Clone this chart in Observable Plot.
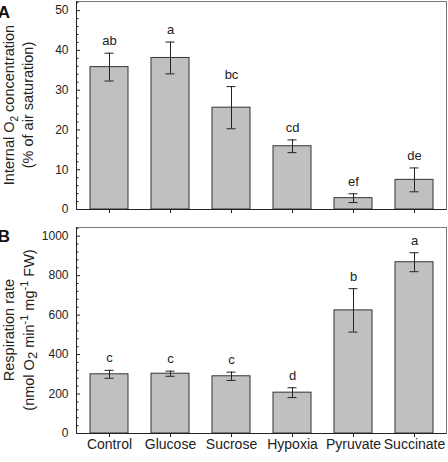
<!DOCTYPE html>
<html><head><meta charset="utf-8">
<script src="https://cdn.jsdelivr.net/npm/d3@7"></script>
<script src="https://cdn.jsdelivr.net/npm/@observablehq/plot@0.6"></script>
<style>
body{margin:0;background:#fff;font-family:"Liberation Sans",Arial,sans-serif;}
#chart{width:448px;height:462px;overflow:hidden}
#chart svg{display:block}
</style></head><body><div id="chart"></div>
<script>
const categories = ["Control","Glucose","Sucrose","Hypoxia","Pyruvate","Succinate"];
const o2Mean = [35.8, 38.1, 25.6, 15.9, 2.85, 7.45];
const o2Err = [3.5, 4.0, 5.3, 1.6, 1.1, 3.0];
const o2Letters = ["ab","a","bc","cd","ef","de"];
const respMean = [300, 303, 290, 207, 624, 868];
const respErr = [20, 13, 21, 25, 110, 48];
const respLetters = ["c","c","c","d","b","a"];
const o2Ticks = [0,10,20,30,40,50];
const respTicks = [0,200,400,600,800,1000];

const FONT = "Liberation Sans, Arial, sans-serif";
const W = 448, ML = 76, MR = 2;
const plotW = W - ML - MR;

function panel({mean, err, letters, ticks, minorStep, domain, height, marginTop, marginBottom, showLabels}) {
  const data = categories.map((c, i) => ({c, m: mean[i], lo: mean[i] - err[i], hi: mean[i] + err[i], l: letters[i]}));
  const minor = d3.range(0, domain[1], minorStep).filter(v => !ticks.includes(v));
  const plotH = height - marginTop - marginBottom;
  const marks = [
    Plot.frame({stroke: "#777", strokeWidth: 1}),
    Plot.barY(data, {x: "c", y: "m", fill: "#c0c0c0", stroke: "#333", strokeWidth: 1}),
    Plot.ruleX(data, {x: "c", y1: "lo", y2: "hi", stroke: "#222", strokeWidth: 1}),
    Plot.tickY(data, {x: "c", y: "hi", stroke: "#222", inset: 14.5}),
    Plot.tickY(data, {x: "c", y: "lo", stroke: "#222", inset: 14.5}),
    Plot.text(data, {x: "c", y: "hi", text: "l", lineAnchor: "bottom", dy: -8, fontSize: 13, fill: "#222"}),
    Plot.tickY(ticks, {y: d => d, insetRight: plotW - 4, stroke: "#222"}),
    Plot.tickY(minor, {y: d => d, insetRight: plotW - 2.5, stroke: "#222"}),
    Plot.axisY({ticks, tickSize: 0, tickPadding: 8, fontSize: 12, label: null, tickFormat: d => String(d)}),
    Plot.tickX(categories, {x: d => d, insetTop: plotH, insetBottom: -4, stroke: "#222"}),
    Plot.ruleY([0], {stroke: "#222"}),
    Plot.frame({anchor: "left", stroke: "#222"})
  ];
  if (showLabels) {
    marks.push(Plot.axisX({tickSize: 4, tickPadding: 2, fontSize: 14, label: null, stroke: "#222"}));
  }
  return Plot.plot({
    width: W, height, marginLeft: ML, marginRight: MR, marginTop, marginBottom,
    style: {fontFamily: FONT, fontSize: "12px", color: "#222", background: "#fff", overflow: "visible"},
    x: {domain: categories, paddingInner: 0.38, paddingOuter: 0.19, align: 0.5, label: null, axis: showLabels ? undefined : null},
    y: {domain, label: null},
    marks
  });
}

function addTitle(svg, x, cy, parts, size) {
  const t = d3.select(svg).append("text")
    .attr("transform", `translate(${x},${cy}) rotate(-90)`)
    .attr("text-anchor", "middle")
    .attr("font-family", FONT)
    .attr("font-size", size)
    .attr("fill", "#222");
  let pending = 0;
  parts.forEach(p => {
    if (typeof p === "string") {
      const s = t.append("tspan").text(p);
      if (pending) { s.attr("dy", pending); pending = 0; }
    } else if (p.sub) {
      t.append("tspan").attr("dy", p.shift + pending).attr("font-size", p.size).text(p.sub);
      pending = -p.shift;
    } else if (p.sup) {
      t.append("tspan").attr("dy", -p.shift + pending).attr("font-size", p.size).text(p.sup);
      pending = p.shift;
    }
  });
}

function addPanelLabel(svg, label, y) {
  d3.select(svg).append("text")
    .attr("x", 4).attr("y", y)
    .attr("font-family", FONT).attr("font-weight", "bold").attr("font-size", 17)
    .attr("fill", "#111").text(label);
}

const svgA = panel({mean: o2Mean, err: o2Err, letters: o2Letters, ticks: o2Ticks, minorStep: 2,
  domain: [0, 52.3], height: 225, marginTop: 1, marginBottom: 16, showLabels: false});
const svgB = panel({mean: respMean, err: respErr, letters: respLetters, ticks: respTicks, minorStep: 40,
  domain: [0, 1044], height: 237, marginTop: 2, marginBottom: 29, showLabels: true});

const cyA = (1 + 209) / 2;
addTitle(svgA, 14, cyA, ["Internal O", {sub: "2", shift: 4, size: 10}, " concentration"], 14.5);
addTitle(svgA, 33, cyA, ["(% of air saturation)"], 14.5);
addPanelLabel(svgA, "A", 18);

const cyB = (2 + 208) / 2;
addTitle(svgB, 14, cyB, ["Respiration rate"], 14.5);
addTitle(svgB, 34, cyB, ["(nmol O", {sub: "2", shift: 3, size: 13}, " min", {sup: "-1", shift: 6, size: 11}, " mg", {sup: "-1", shift: 6, size: 11}, " FW)"], 14.5);
addPanelLabel(svgB, "B", 17);

document.getElementById("chart").append(svgA, svgB);
</script>
</body></html>
